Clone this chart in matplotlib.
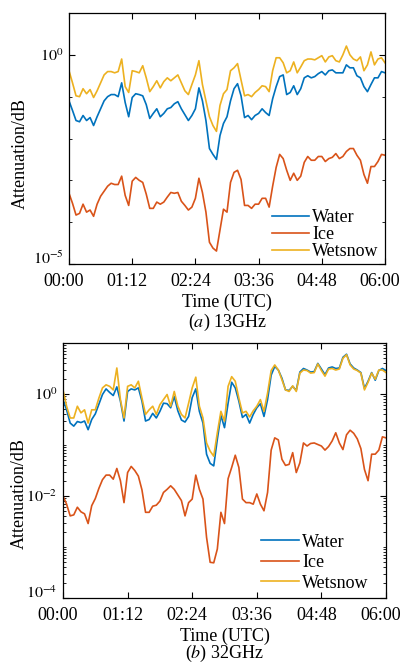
import numpy as np
import matplotlib
matplotlib.use("Agg")
import matplotlib.pyplot as plt
import matplotlib.transforms as mtrans
from matplotlib.ticker import FixedLocator, LogLocator, NullFormatter

plt.rcParams['font.family'] = ['Liberation Serif', 'DejaVu Serif']
plt.rcParams['mathtext.fontset'] = 'stix'

# time in minutes after 00:00 UTC, one reading every 4 minutes
minutes = np.arange(0, 361, 4)
tick_minutes = [0, 72, 144, 216, 288, 360]
tick_labels = ['00:00', '01:12', '02:24', '03:36', '04:48', '06:00']
series_names = ['Water', 'Ice', 'Wetsnow']

# log10 of attenuation (dB) -- (a) 13 GHz
water_13 = [-1.10, -1.33, -1.57, -1.60, -1.45, -1.57, -1.50, -1.69, -1.48, -1.29, -1.10, -1.00, -0.95, -0.95, -1.00, -0.67,
            -1.14, -1.48, -1.02, -0.93, -0.95, -0.98, -1.19, -1.52, -1.40, -1.29, -1.48, -1.40, -1.29, -1.26, -1.17,
            -1.12, -1.29, -1.43, -1.57, -1.45, -1.29, -0.79, -1.10, -1.57, -2.24, -2.38, -2.50, -1.93, -1.64, -1.48, -1.10,
            -0.81, -0.69, -0.98, -1.50, -1.45, -1.55, -1.45, -1.40, -1.29, -1.38, -1.45, -1.05, -0.76, -0.52, -0.48,
            -0.95, -0.90, -0.74, -0.95, -0.81, -0.55, -0.50, -0.55, -0.52, -0.45, -0.40, -0.48, -0.38, -0.36, -0.43,
            -0.43, -0.43, -0.24, -0.31, -0.31, -0.50, -0.55, -0.76, -0.88, -0.71, -0.55, -0.55, -0.40, -0.43]
ice_13 = [-3.31, -3.55, -3.83, -3.79, -3.57, -3.76, -3.71, -3.86, -3.57, -3.38, -3.26, -3.14, -3.07, -3.10, -3.10, -2.90,
          -3.36, -3.60, -3.02, -2.93, -3.00, -3.05, -3.33, -3.67, -3.67, -3.52, -3.57, -3.52, -3.40, -3.29, -3.31,
          -3.29, -3.50, -3.60, -3.71, -3.64, -3.43, -2.95, -3.29, -3.76, -4.48, -4.62, -4.69, -4.19, -3.69, -3.76, -3.05,
          -2.81, -2.76, -2.98, -3.60, -3.60, -3.67, -3.57, -3.57, -3.43, -3.43, -3.64, -3.14, -2.69, -2.38, -2.48,
          -2.76, -3.00, -2.83, -3.00, -2.90, -2.57, -2.43, -2.52, -2.52, -2.43, -2.43, -2.55, -2.48, -2.45, -2.36,
          -2.48, -2.43, -2.31, -2.24, -2.24, -2.40, -2.52, -2.86, -3.07, -2.67, -2.67, -2.55, -2.38, -2.40]
wetsnow_13 = [-0.38, -0.67, -0.98, -1.00, -0.81, -0.93, -0.83, -1.02, -0.86, -0.67, -0.48, -0.40, -0.40, -0.43, -0.40, -0.10,
              -0.76, -0.90, -0.38, -0.40, -0.43, -0.26, -0.55, -0.88, -0.76, -0.62, -0.79, -0.64, -0.55, -0.62, -0.55,
              -0.48, -0.67, -0.86, -0.95, -0.71, -0.48, -0.14, -0.71, -1.10, -1.48, -1.69, -1.83, -1.21, -0.93, -0.83, -0.38,
              -0.31, -0.21, -0.60, -0.98, -0.95, -1.00, -0.90, -0.83, -0.74, -0.76, -0.88, -0.38, -0.07, -0.07, -0.19,
              -0.43, -0.38, -0.17, -0.43, -0.29, -0.14, -0.10, -0.10, -0.12, -0.07, -0.02, -0.17, -0.05, -0.02, -0.14,
              -0.17, 0.00, 0.21, 0.00, -0.10, -0.14, -0.05, -0.38, -0.24, 0.07, -0.24, -0.10, -0.07, -0.19]

# (b) 32 GHz
water_32 = [-0.11, -0.31, -0.57, -0.63, -0.54, -0.56, -0.53, -0.70, -0.50, -0.39, -0.20, -0.01, 0.10, 0.03, -0.03, 0.14,
            -0.14, -0.53, 0.05, 0.10, 0.08, 0.12, -0.14, -0.53, -0.50, -0.38, -0.47, -0.34, -0.18, -0.19, -0.27,
            -0.05, -0.33, -0.51, -0.55, -0.44, -0.07, 0.10, -0.34, -0.57, -1.18, -1.36, -1.41, -0.89, -0.42, -0.66,
            -0.18, 0.23, 0.12, -0.14, -0.46, -0.40, -0.57, -0.40, -0.27, -0.19, -0.44, -0.11, 0.37, 0.54,
            0.47, 0.31, 0.08, 0.07, 0.15, 0.07, 0.43, 0.50, 0.47, 0.43, 0.44, 0.60, 0.49, 0.38, 0.51, 0.53,
            0.50, 0.51, 0.72, 0.78, 0.59, 0.51, 0.47, 0.42, 0.11, 0.25, 0.42, 0.27, 0.46, 0.50, 0.46]
ice_32 = [-2.00, -2.16, -2.39, -2.37, -2.22, -2.31, -2.35, -2.54, -2.19, -2.05, -1.85, -1.68, -1.59, -1.59, -1.67, -1.46,
          -1.70, -2.13, -1.54, -1.42, -1.50, -1.61, -1.88, -2.32, -2.32, -2.20, -2.18, -2.10, -1.93, -1.87, -1.80,
          -1.87, -1.98, -2.09, -2.39, -2.13, -2.06, -1.59, -1.87, -2.06, -2.81, -3.30, -3.31, -3.04, -2.32, -2.54,
          -1.66, -1.44, -1.20, -1.44, -2.06, -2.13, -2.13, -2.16, -1.96, -2.16, -2.29, -1.93, -1.10, -0.86,
          -0.90, -1.28, -1.40, -1.38, -1.15, -1.54, -1.35, -0.96, -1.02, -0.97, -0.96, -0.99, -1.02, -1.10, -1.03, -0.92,
          -0.76, -0.96, -1.09, -0.80, -0.71, -0.77, -0.88, -1.07, -1.48, -1.70, -1.18, -1.18, -1.10, -0.84, -0.86]
wetsnow_32 = [0.08, -0.24, -0.47, -0.47, -0.24, -0.37, -0.31, -0.57, -0.31, -0.31, -0.08, 0.12, 0.18, 0.15, 0.08, 0.51,
              -0.11, -0.47, 0.15, 0.18, 0.12, 0.25, -0.08, -0.40, -0.31, -0.24, -0.40, -0.21, -0.11, -0.01, -0.24,
              0.05, -0.24, -0.40, -0.47, -0.18, 0.12, 0.33, -0.24, -0.47, -0.96, -1.12, -1.22, -0.76, -0.34, -0.53,
              0.15, 0.34, 0.25, -0.08, -0.37, -0.34, -0.45, -0.33, -0.24, -0.11, -0.34, 0.02, 0.46, 0.57,
              0.47, 0.28, 0.08, 0.05, 0.16, 0.05, 0.41, 0.47, 0.46, 0.41, 0.42, 0.59, 0.46, 0.35, 0.49, 0.50,
              0.47, 0.49, 0.70, 0.77, 0.57, 0.49, 0.46, 0.41, 0.08, 0.23, 0.41, 0.29, 0.47, 0.47, 0.42]

colors = ['#0072BD', '#D95319', '#EDB120']


def draw_panel(ax, series, ylim, minor, label_ticks, caption, ylabel_xy, legend_anchor, legend_spacing, xlabelpad):
    for name, vals, c in zip(series_names, series, colors):
        ax.plot(minutes, np.power(10.0, vals), color=c, lw=1.2, label=name)
    ax.set_yscale('log')
    ax.set_xlim(0, 360)
    ax.set_ylim(*ylim)
    ax.set_xticks(tick_minutes)
    ax.set_xticklabels(tick_labels)
    ax.yaxis.set_major_locator(FixedLocator(label_ticks))
    ax.set_yticklabels(['$10^{%d}$' % np.log10(v) for v in label_ticks])
    ax.yaxis.set_minor_locator(minor)
    ax.yaxis.set_minor_formatter(NullFormatter())
    ax.tick_params(which='both', direction='in', top=True, right=True)
    ax.tick_params(axis='x', which='major', pad=6.4, labelsize=13)
    ax.tick_params(axis='y', which='major', pad=4, labelsize=11.5)
    ax.tick_params(which='major', length=4, width=0.8)
    ax.tick_params(which='minor', length=2.5, width=0.6)
    # lowest decade label sits just above the corner, like the original
    ax.get_yticklabels()[0].set_verticalalignment('baseline')
    # x tick labels sit slightly left of their ticks in the original
    shift = mtrans.ScaledTranslation(-5 / 72 * 0.72, 0, ax.figure.dpi_scale_trans)
    for lab in ax.get_xticklabels():
        lab.set_transform(lab.get_transform() + shift)
    for s in ax.spines.values():
        s.set_linewidth(0.9)
    ax.set_ylabel('Attenuation/dB', fontsize=13, va='center')
    ax.yaxis.set_label_coords(*ylabel_xy)
    ax.set_xlabel('Time (UTC)', fontsize=13, labelpad=xlabelpad)
    ax.text(0.5, caption[1], caption[0], transform=ax.transAxes, ha='center', va='baseline', fontsize=13)
    ax.legend(loc='lower right', bbox_to_anchor=legend_anchor, frameon=False, fontsize=13,
              handlelength=2.1, handletextpad=0.15, labelspacing=legend_spacing, borderpad=0.2)


fig = plt.figure(figsize=(4.04, 6.65), dpi=100)
ax1 = fig.add_axes([69 / 404, 1 - 264 / 665, 316 / 404, 251 / 665])
ax2 = fig.add_axes([63 / 404, 1 - 598 / 665, 323 / 404, 255 / 665])

draw_panel(ax1, [water_13, ice_13, wetsnow_13], (1e-5, 1e1),
           LogLocator(base=10, subs=(1.0,), numticks=20), [1e-5, 1e0],
           ('($\\mathit{a}$) 13GHz', -0.252), (-0.155, 0.44), (1.02, -0.035), 0.0, 3)
draw_panel(ax2, [water_32, ice_32, wetsnow_32], (1e-4, 1e1),
           LogLocator(base=10, subs=np.arange(1, 10), numticks=20), [1e-4, 1e-2, 1e0],
           ('($\\mathit{b}$) 32GHz', -0.236), (-0.136, 0.41), (0.985, -0.025), 0.2, 2.5)

fig.savefig('out.png', dpi=100)
